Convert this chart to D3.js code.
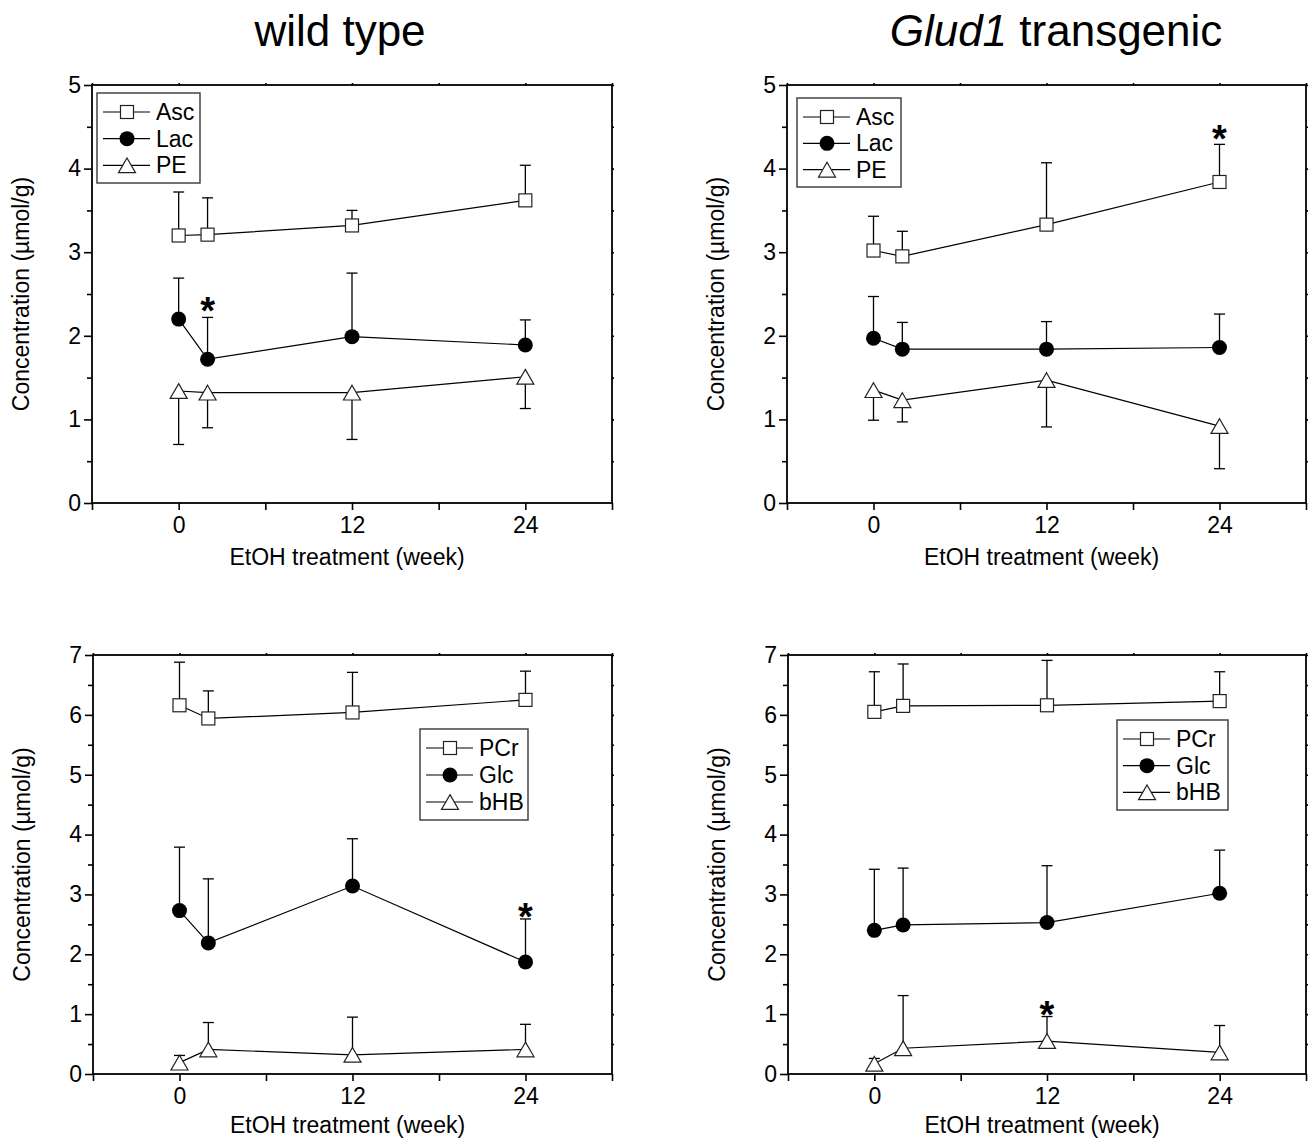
<!DOCTYPE html>
<html lang="en">
<head>
<meta charset="utf-8">
<title>EtOH treatment: metabolite concentrations</title>
<script src="https://d3js.org/d3.v7.min.js"></script>
<style>
  body { margin: 0; background: #fff; }
  text { font-family: "Liberation Sans", Arial, sans-serif; fill: #000; }
</style>
</head>
<body>
<script>
// time points (week of EtOH treatment)
var weeks = [0, 2, 12, 24];
var xTickVals = [-6, 0, 6, 12, 18, 24, 30];
var xTickLabels = [0, 12, 24];

// wild type, upper panel
var ascWt = [3.20, 3.21, 3.32, 3.62];
var ascWtErr = [0.52, 0.44, 0.18, 0.42];
var lacWt = [2.20, 1.72, 1.99, 1.89];
var lacWtErr = [0.49, 0.50, 0.76, 0.30];
var peWt = [1.34, 1.32, 1.32, 1.51];
var peWtErr = [0.64, 0.42, 0.56, 0.38];

// Glud1 transgenic, upper panel
var ascTg = [3.02, 2.95, 3.33, 3.84];
var ascTgErr = [0.41, 0.30, 0.74, 0.45];
var lacTg = [1.97, 1.84, 1.84, 1.86];
var lacTgErr = [0.50, 0.32, 0.33, 0.40];
var peTg = [1.35, 1.23, 1.47, 0.92];
var peTgErr = [0.36, 0.26, 0.56, 0.51];

// wild type, lower panel
var pcrWt = [6.16, 5.94, 6.04, 6.25];
var pcrWtErr = [0.72, 0.46, 0.67, 0.48];
var glcWt = [2.73, 2.19, 3.14, 1.87];
var glcWtErr = [1.06, 1.07, 0.79, 0.72];
var bhbWt = [0.19, 0.41, 0.32, 0.41];
var bhbWtErr = [0.12, 0.45, 0.63, 0.42];

// Glud1 transgenic, lower panel
var pcrTg = [6.05, 6.15, 6.16, 6.23];
var pcrTgErr = [0.67, 0.70, 0.75, 0.49];
var glcTg = [2.40, 2.49, 2.53, 3.02];
var glcTgErr = [1.02, 0.95, 0.95, 0.72];
var bhbTg = [0.17, 0.43, 0.55, 0.36];
var bhbTgErr = [0.09, 0.88, 0.41, 0.45];

// significance marks: [week, height]
var starsWtTop = [[2, 2.40]];
var starsTgTop = [[24, 4.46]];
var starsWtBot = [[24, 2.78]];
var starsTgBot = [[12, 1.14]];

var topNames = ["Asc", "Lac", "PE"];
var botNames = ["PCr", "Glc", "bHB"];
var shapes = ["square", "circle", "triangle"];
var titles = ["wild type", "Glud1 transgenic"];
var xLabel = "EtOH treatment (week)";
var yLabel = "Concentration (\u00b5mol/g)";

var w = 1310, h = 1140;
var svg = d3.select("body").append("svg")
  .attr("width", w).attr("height", h);

var panels = [
  { left: 92, right: 612, top: 85, bottom: 503, ymax: 5, names: topNames, xlab: 62,
    vals: [ascWt, lacWt, peWt], errs: [ascWtErr, lacWtErr, peWtErr], dirs: [1, 1, -1],
    stars: starsWtTop, leg: { x: 97, y: 93, w: 103, h: 90 } },
  { left: 787, right: 1306, top: 85, bottom: 503, ymax: 5, names: topNames, xlab: 62,
    vals: [ascTg, lacTg, peTg], errs: [ascTgErr, lacTgErr, peTgErr], dirs: [1, 1, -1],
    stars: starsTgTop, leg: { x: 797, y: 98, w: 104, h: 89 } },
  { left: 93, right: 612, top: 655, bottom: 1074, ymax: 7, names: botNames, xlab: 59,
    vals: [pcrWt, glcWt, bhbWt], errs: [pcrWtErr, glcWtErr, bhbWtErr], dirs: [1, 1, 1],
    stars: starsWtBot, leg: { x: 420, y: 729, w: 108, h: 91 } },
  { left: 788, right: 1306, top: 655, bottom: 1074, ymax: 7, names: botNames, xlab: 59,
    vals: [pcrTg, glcTg, bhbTg], errs: [pcrTgErr, glcTgErr, bhbTgErr], dirs: [1, 1, 1],
    stars: starsTgBot, leg: { x: 1117, y: 720, w: 111, h: 90 } }
];

function drawMarker(g, shape, cx, cy) {
  if (shape == "square") {
    g.append("rect").attr("x", cx - 6.5).attr("y", cy - 6.5)
      .attr("width", 13).attr("height", 13)
      .attr("fill", "#fff").attr("stroke", "#222").attr("stroke-width", 1.2);
  } else if (shape == "circle") {
    g.append("circle").attr("cx", cx).attr("cy", cy).attr("r", 7.5)
      .attr("fill", "#000");
  } else {
    var s = 17, th = s * 0.866;
    g.append("path")
      .attr("d", "M" + cx + "," + (cy - th / 2) + "L" + (cx + s / 2) + "," + (cy + th / 2) +
        "L" + (cx - s / 2) + "," + (cy + th / 2) + "Z")
      .attr("fill", "#fff").attr("stroke", "#222").attr("stroke-width", 1.2);
  }
}

function styleAxis(g) {
  g.select(".domain").remove();
  g.selectAll("line").attr("stroke", "#000").attr("stroke-width", 1.6);
  g.selectAll("text").attr("font-size", 23).attr("font-family", "Liberation Sans, Arial, sans-serif").attr("fill", "#000");
}

panels.forEach(function(p, i) {
  var x = d3.scaleLinear().domain([-6, 30]).range([p.left, p.right]);
  var y = d3.scaleLinear().domain([0, p.ymax]).range([p.bottom, p.top]);
  var g = svg.append("g");

  // axes
  g.append("g").attr("transform", "translate(0," + p.bottom + ")")
    .call(d3.axisBottom(x).tickValues(xTickVals).tickSize(7).tickPadding(7)
      .tickFormat(function(d) { return xTickLabels.indexOf(d) >= 0 ? d : ""; }))
    .call(styleAxis);
  g.append("g").attr("transform", "translate(0," + p.top + ")")
    .call(d3.axisTop(x).tickValues(xTickVals).tickSize(2).tickFormat(""))
    .call(styleAxis);
  g.append("g").attr("transform", "translate(" + p.left + ",0)")
    .call(d3.axisLeft(y).tickValues(d3.range(0, p.ymax + 1)).tickSize(8).tickPadding(3)
      .tickFormat(d3.format("d")))
    .call(styleAxis);
  g.append("g").attr("transform", "translate(" + p.left + ",0)")
    .call(d3.axisLeft(y).tickValues(d3.range(0.5, p.ymax, 1)).tickSize(5).tickFormat(""))
    .call(styleAxis);
  g.append("g").attr("transform", "translate(" + p.right + ",0)")
    .call(d3.axisRight(y).tickValues(d3.range(0.5, p.ymax + 0.1, 0.5)).tickSize(2).tickFormat(""))
    .call(styleAxis);

  g.append("rect").attr("x", p.left).attr("y", p.top)
    .attr("width", p.right - p.left).attr("height", p.bottom - p.top)
    .attr("fill", "none").attr("stroke", "#000").attr("stroke-width", 1.8);

  // axis titles
  g.append("text").attr("x", (p.left + p.right) / 2 - 5).attr("y", p.bottom + p.xlab)
    .attr("text-anchor", "middle").attr("font-size", 23).text(xLabel);
  g.append("text")
    .attr("transform", "translate(" + (p.left - 63) + "," + ((p.top + p.bottom) / 2) + ") rotate(-90)")
    .attr("text-anchor", "middle").attr("font-size", 23).text(yLabel);

  var line = d3.line().x(function(d, k) { return x(weeks[k]); }).y(function(d) { return y(d); });

  // error bars (one-sided)
  p.vals.forEach(function(vals, s) {
    vals.forEach(function(v, k) {
      var y0 = y(v), y1 = y(v + p.dirs[s] * p.errs[s][k]), cx = x(weeks[k]);
      g.append("line").attr("x1", cx).attr("x2", cx).attr("y1", y0).attr("y2", y1)
        .attr("stroke", "#000").attr("stroke-width", 1.3);
      g.append("line").attr("x1", cx - 5.5).attr("x2", cx + 5.5).attr("y1", y1).attr("y2", y1)
        .attr("stroke", "#000").attr("stroke-width", 1.3);
    });
  });

  // lines + markers
  p.vals.forEach(function(vals, s) {
    g.append("path").datum(vals).attr("d", line)
      .attr("fill", "none").attr("stroke", "#000").attr("stroke-width", 1.2);
    vals.forEach(function(v, k) { drawMarker(g, shapes[s], x(weeks[k]), y(v)); });
  });

  // asterisks
  p.stars.forEach(function(st) {
    g.append("text").attr("x", x(st[0])).attr("y", y(st[1]) + 22)
      .attr("text-anchor", "middle").attr("font-size", 38).attr("font-weight", "bold").text("*");
  });

  // legend
  var L = p.leg;
  g.append("rect").attr("x", L.x).attr("y", L.y).attr("width", L.w).attr("height", L.h)
    .attr("fill", "#fff").attr("stroke", "#444").attr("stroke-width", 1.5);
  var step = (L.h - 10) / 3;
  p.names.forEach(function(n, s) {
    var ry = L.y + 19 + s * step;
    g.append("line").attr("x1", L.x + 6).attr("x2", L.x + 53).attr("y1", ry).attr("y2", ry)
      .attr("stroke", "#000").attr("stroke-width", 1.2);
    drawMarker(g, shapes[s], L.x + 30, ry);
    g.append("text").attr("x", L.x + 59).attr("y", ry + 8).attr("font-size", 23).text(n);
  });
});

// column titles
svg.append("text").attr("x", 340).attr("y", 46).attr("text-anchor", "middle")
  .attr("font-size", 44).text(titles[0]);
var t2 = svg.append("text").attr("x", 1056).attr("y", 46).attr("text-anchor", "middle")
  .attr("font-size", 44);
var parts = titles[1].split(" ");
t2.append("tspan").attr("font-style", "italic").text(parts[0]);
t2.append("tspan").text(" " + parts.slice(1).join(" "));
</script>
</body>
</html>
